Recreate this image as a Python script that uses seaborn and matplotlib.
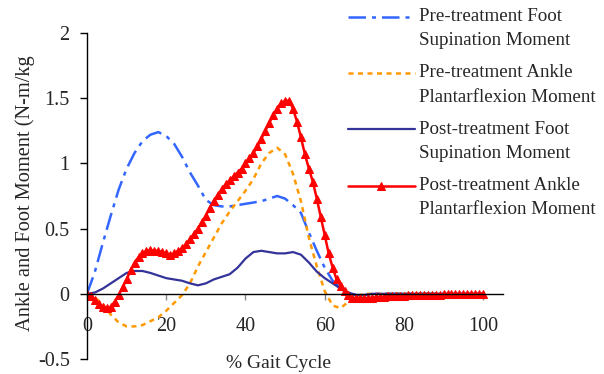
import numpy as np
import pandas as pd
import seaborn as sns
import matplotlib.pyplot as plt

# ---- data ----
gait_2 = [0, 2, 4, 6, 8, 10, 12, 14, 16, 18, 20, 22, 24, 26, 28, 30, 32, 34, 36, 38,
          40, 42, 44, 46, 48, 50, 52, 54, 56, 58, 60, 62, 64, 66, 68, 70, 72, 74, 76, 78,
          80, 82, 84, 86, 88, 90, 92, 94, 96, 98, 100]

pre_foot_sup = [0.00, 0.17, 0.39, 0.60, 0.80, 0.96, 1.08, 1.17, 1.22, 1.24, 1.21, 1.15, 1.05, 0.93, 0.83,
                0.72, 0.68, 0.67, 0.67, 0.68, 0.69, 0.70, 0.71, 0.73, 0.75, 0.73, 0.68, 0.62, 0.47, 0.33,
                0.20, 0.10, 0.04, 0.00, -0.01, -0.01, 0.00, 0.00, 0.00, 0.00, 0.00, 0.00, 0.00, 0.00,
                0.00, 0.00, 0.00, 0.00, 0.00, 0.00, 0.00]

pre_ankle_pf = [0.00, -0.03, -0.08, -0.16, -0.22, -0.25, -0.25, -0.24, -0.21, -0.18, -0.13, -0.07, -0.01,
                0.08, 0.21, 0.32, 0.43, 0.54, 0.63, 0.71, 0.79, 0.88, 1.00, 1.08, 1.12, 1.07, 0.92, 0.71,
                0.43, 0.21, 0.02, -0.09, -0.11, -0.06, -0.02, 0.00, 0.00, 0.00, 0.00, 0.00, 0.00, 0.00,
                0.00, 0.00, 0.00, 0.00, 0.00, 0.00, 0.00, 0.00, 0.00]

post_foot_sup = [0.00, 0.01, 0.04, 0.08, 0.12, 0.16, 0.175, 0.175, 0.16, 0.14, 0.12, 0.11, 0.10, 0.08,
                 0.065, 0.08, 0.11, 0.13, 0.15, 0.20, 0.27, 0.32, 0.33, 0.32, 0.31, 0.31, 0.32, 0.30,
                 0.24, 0.17, 0.12, 0.08, 0.04, 0.01, -0.01, -0.01, 0.00, 0.00, 0.00, 0.00, 0.00, 0.00,
                 0.00, 0.00, 0.00, 0.00, 0.00, 0.00, 0.00, 0.00, 0.00]

gait_1 = list(range(0, 101))

post_ankle_pf = [0.00, -0.02, -0.05, -0.08, -0.10, -0.11, -0.10, -0.06, -0.01, 0.05,
                 0.11, 0.18, 0.24, 0.28, 0.31, 0.33, 0.335, 0.33, 0.33, 0.32,
                 0.31, 0.30, 0.31, 0.33, 0.35, 0.38, 0.42, 0.46, 0.50, 0.55,
                 0.60, 0.66, 0.71, 0.76, 0.80, 0.84, 0.87, 0.90, 0.93, 0.96,
                 1.00, 1.04, 1.08, 1.13, 1.19, 1.25, 1.31, 1.37, 1.42, 1.46,
                 1.48, 1.48, 1.42, 1.32, 1.20, 1.07, 0.96, 0.86, 0.73, 0.59,
                 0.45, 0.31, 0.20, 0.11, 0.06, 0.02, -0.01, -0.03, -0.035, -0.035,
                 -0.035, -0.033, -0.03, -0.028, -0.025, -0.023, -0.02, -0.019, -0.018, -0.016,
                 -0.015, -0.013, -0.012, -0.011, -0.01, -0.009, -0.008, -0.007, -0.006, -0.006,
                 -0.005, -0.004, -0.004, -0.003, -0.003, -0.002, -0.002, -0.001, -0.001, 0.000,
                 0.000]

labels = ["Pre-treatment Foot\nSupination Moment",
          "Pre-treatment Ankle\nPlantarflexion Moment",
          "Post-treatment Foot\nSupination Moment",
          "Post-treatment Ankle\nPlantarflexion Moment"]

x_ticks = [0, 20, 40, 60, 80, 100]
y_ticks = [-0.5, 0, 0.5, 1, 1.5, 2]
y_tick_labels = ["-0.5", "0", "0.5", "1", "1.5", "2"]

# ---- style ----
sns.set_theme(style="white")
plt.rcParams["font.family"] = ["Liberation Serif", "DejaVu Serif"]
plt.rcParams["axes.unicode_minus"] = False
FS_TICK = 14.5
FS_LEG = 13.7

fig = plt.figure(figsize=(6.04, 3.74), dpi=100)
ax = fig.add_axes([87 / 604, 1 - 359 / 374, 416 / 604, 326 / 374])

sns.lineplot(x=gait_2, y=pre_foot_sup, ax=ax, color="#3366FF", lw=1.8,
             linestyle=(0, (7, 2.4, 1.6, 2.4)), label=labels[0])
sns.lineplot(x=gait_2, y=pre_ankle_pf, ax=ax, color="#FF9900", lw=1.8,
             linestyle=(0, (2, 1.8)), label=labels[1])
sns.lineplot(x=gait_2, y=post_foot_sup, ax=ax, color="#333399", lw=1.6,
             label=labels[2])
sns.lineplot(x=gait_1, y=post_ankle_pf, ax=ax, color="#FF0000", lw=1.8,
             marker="^", markersize=5.5, markeredgecolor="#FF0000",
             markerfacecolor="#FF0000", label=labels[3])

ax.set_xlim(0, 105)
ax.set_ylim(-0.5, 2)
ax.set_xticks(x_ticks)
ax.set_yticks(y_ticks)
ax.set_yticklabels(y_tick_labels)

for s in ["top", "right"]:
    ax.spines[s].set_visible(False)
ax.spines["bottom"].set_position(("data", 0))
ax.spines["left"].set_color("black")
ax.spines["bottom"].set_color("black")
ax.spines["left"].set_linewidth(1.0)
ax.spines["bottom"].set_linewidth(1.0)

ax.tick_params(axis="y", direction="out", length=5, width=1, color="black",
               pad=7.5, labelsize=FS_TICK, left=True)
ax.tick_params(axis="x", direction="out", length=4, width=1, color="#888888",
               pad=13, labelsize=FS_TICK, bottom=True)

ax.set_xlabel("% Gait Cycle", fontsize=14)
ax.xaxis.set_label_coords(0.46, -0.015)
ax.xaxis.label.set_va("center")
ax.set_ylabel("Ankle and Foot Moment (N-m/kg", fontsize=14.7)
ax.yaxis.set_label_coords(-62 / 416, 0.509)
ax.yaxis.label.set_va("center")

ax.get_legend().remove()
handles, _ = ax.get_legend_handles_labels()
leg = fig.legend(handles, labels, loc="upper left",
                 bbox_to_anchor=(348 / 604, 1 - 8 / 374),
                 frameon=False, fontsize=FS_LEG, handlelength=3.5,
                 handletextpad=0.25, labelspacing=0.8,
                 borderpad=0, borderaxespad=0)
for t in leg.get_texts():
    t.set_linespacing(1.55)
# line up each legend line with the first line of its two-line label
for h in leg.legend_handles:
    h.set_ydata([y + 8.5 for y in h.get_ydata()])

fig.savefig("out.png", dpi=100)
